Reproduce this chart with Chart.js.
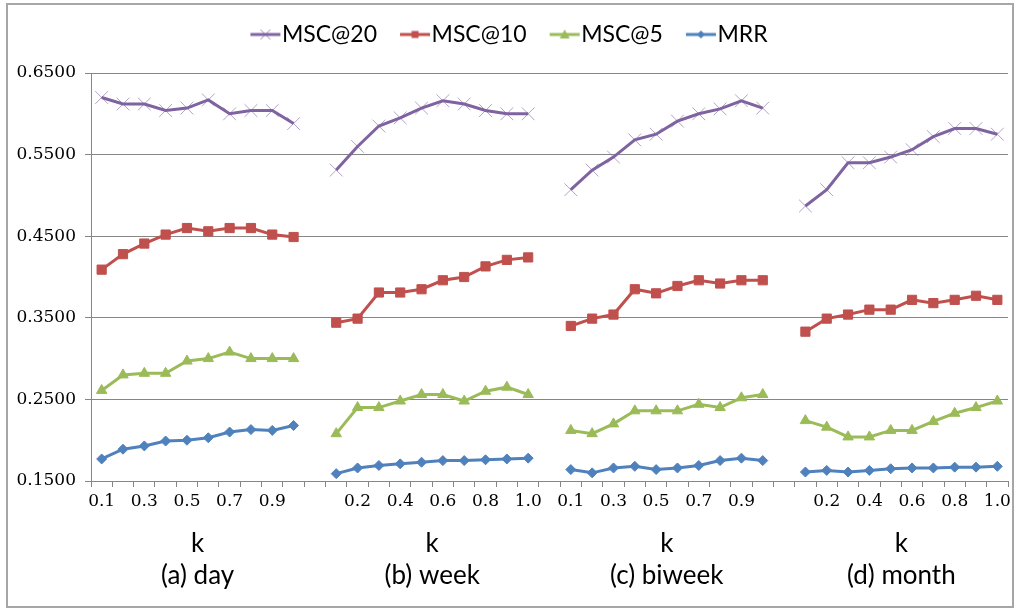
<!DOCTYPE html>
<html>
<head>
<meta charset="utf-8">
<script src="https://cdn.jsdelivr.net/npm/chart.js@4/dist/chart.umd.min.js"></script>
<style>
  body { margin: 0; background: #fff; }
  #wrap { position: relative; width: 1018px; height: 609px; }
  #frame { position: absolute; left: 6px; top: 3px; width: 1004px; height: 601px; border: 2px solid #a6a6a6; pointer-events: none; }
</style>
</head>
<body>
<div id="wrap">
  <canvas id="chart" width="1018" height="609"></canvas>
  <div id="frame"></div>
</div>
<script>
"use strict";

// k values on the x axis, one set per panel
const kLabels = ['0.1', '0.2', '0.3', '0.4', '0.5', '0.6', '0.7', '0.8', '0.9', '1.0'];
const panelNames = ['(a) day', '(b) week', '(c) biweek', '(d) month'];
const yTicks = [0.15, 0.25, 0.35, 0.45, 0.55, 0.65];

// values per series: day, week, biweek, month (10 each)
const msc20 = [
  0.620, 0.612, 0.612, 0.604, 0.607, 0.617, 0.600, 0.604, 0.604, 0.588,
  0.531, 0.560, 0.585, 0.595, 0.607, 0.616, 0.612, 0.604, 0.600, 0.600,
  0.507, 0.531, 0.547, 0.568, 0.575, 0.591, 0.600, 0.606, 0.616, 0.607,
  0.487, 0.507, 0.540, 0.540, 0.547, 0.556, 0.572, 0.582, 0.582, 0.575
];
const msc10 = [
  0.409, 0.428, 0.441, 0.452, 0.460, 0.456, 0.460, 0.460, 0.452, 0.449,
  0.344, 0.349, 0.381, 0.381, 0.385, 0.396, 0.400, 0.413, 0.421, 0.424,
  0.340, 0.349, 0.354, 0.385, 0.380, 0.389, 0.396, 0.392, 0.396, 0.396,
  0.333, 0.349, 0.354, 0.360, 0.360, 0.372, 0.368, 0.372, 0.377, 0.372
];
const msc5 = [
  0.261, 0.280, 0.282, 0.282, 0.297, 0.300, 0.308, 0.300, 0.300, 0.300,
  0.208, 0.240, 0.240, 0.248, 0.256, 0.256, 0.248, 0.260, 0.265, 0.256,
  0.212, 0.208, 0.220, 0.236, 0.236, 0.236, 0.244, 0.240, 0.252, 0.256,
  0.224, 0.216, 0.204, 0.204, 0.212, 0.212, 0.223, 0.233, 0.240, 0.248
];
const mrr = [
  0.177, 0.189, 0.193, 0.199, 0.200, 0.203, 0.210, 0.213, 0.212, 0.218,
  0.159, 0.166, 0.169, 0.171, 0.173, 0.175, 0.175, 0.176, 0.177, 0.178,
  0.164, 0.160, 0.166, 0.168, 0.164, 0.166, 0.169, 0.175, 0.178, 0.175,
  0.161, 0.163, 0.161, 0.163, 0.165, 0.166, 0.166, 0.167, 0.167, 0.168
];

// one empty category between the panels
function withGaps(values, gap) {
  const out = [];
  for (let p = 0; p < panelNames.length; p++) {
    if (p > 0) out.push(gap);
    out.push(...values.slice(p * 10, p * 10 + 10));
  }
  return out;
}

const labels = withGaps([].concat(kLabels, kLabels, kLabels, kLabels), '');

const series = [
  { label: 'MSC@20', data: msc20, color: '#7f63a1', style: 'crossRot' },
  { label: 'MSC@10', data: msc10, color: '#c0504d', style: 'rect' },
  { label: 'MSC@5', data: msc5, color: '#9bbb59', style: 'triangle' },
  { label: 'MRR', data: mrr, color: '#4f81bd', style: 'rectRot' }
];

// legend icon: short line with the marker on it
function makeIcon(s) {
  const c = document.createElement('canvas');
  c.width = 60; c.height = 18;
  const g = c.getContext('2d');
  const cx = 40, cy = 9;
  g.strokeStyle = s.color;
  g.lineWidth = 3;
  g.beginPath(); g.moveTo(25, cy); g.lineTo(55, cy); g.stroke();
  g.fillStyle = s.color;
  if (s.style === 'crossRot') {
    g.strokeStyle = 'rgba(128,100,162,0.75)';
    g.lineWidth = 1;
    g.beginPath();
    g.moveTo(cx - 5, cy - 5); g.lineTo(cx + 5, cy + 5);
    g.moveTo(cx - 5, cy + 5); g.lineTo(cx + 5, cy - 5);
    g.stroke();
  } else if (s.style === 'rect') {
    g.fillRect(cx - 3.5, cy - 3.5, 7, 7);
  } else if (s.style === 'triangle') {
    g.beginPath(); g.moveTo(cx, cy - 5); g.lineTo(cx + 5, cy + 4); g.lineTo(cx - 5, cy + 4); g.closePath(); g.fill();
  } else {
    g.beginPath(); g.moveTo(cx, cy - 4); g.lineTo(cx + 4, cy); g.lineTo(cx, cy + 4); g.lineTo(cx - 4, cy); g.closePath(); g.fill();
  }
  return c;
}
const icons = series.map(makeIcon);

// extra space under the legend
const legendGap = {
  id: 'legendGap',
  beforeLayout(chart) {
    const lg = chart.legend;
    if (lg && !lg._gapPatched) {
      const fit = lg.fit.bind(lg);
      lg.fit = function () { fit(); this.height += 17; };
      lg._gapPatched = true;
    }
  }
};

const panelCaptions = {
  id: 'panelCaptions',
  afterDraw(chart) {
    const x = chart.scales.x;
    const ctx = chart.ctx;
    ctx.save();
    ctx.fillStyle = '#000';
    ctx.font = '26px Lato';
    ctx.textAlign = 'center';
    ctx.textBaseline = 'middle';
    for (let p = 0; p < panelNames.length; p++) {
      const cx = (x.getPixelForValue(p * 11) + x.getPixelForValue(p * 11 + 9)) / 2;
      ctx.fillText('k', cx, 544);
      ctx.fillText(panelNames[p], cx, 576);
    }
    ctx.restore();
  }
};

const ctx = document.getElementById('chart');

new Chart(ctx, {
  type: 'line',
  data: {
    labels: labels,
    datasets: series.map(s => ({
      label: s.label,
      data: withGaps(s.data, null),
      borderColor: s.color,
      backgroundColor: s.color,
      borderWidth: 3,
      tension: 0,
      spanGaps: false,
      pointStyle: s.style,
      pointRadius: s.style === 'crossRot' ? 9 : s.style === 'rectRot' ? 5 : s.style === 'rect' ? 6.5 : 6,
      pointBorderWidth: 1,
      pointBorderColor: s.style === 'crossRot' ? 'rgba(128,100,162,0.6)' : s.color,
      pointBackgroundColor: s.color
    }))
  },
  options: {
    responsive: false,
    animation: false,
    layout: { padding: { top: 10, right: 10, left: 0, bottom: 0 } },
    plugins: {
      tooltip: { enabled: false },
      legend: {
        position: 'top',
        labels: {
          usePointStyle: true,
          pointStyleWidth: 30,
          padding: 13,
          color: '#000',
          font: { family: 'Lato', size: 23 },
          generateLabels(chart) {
            const items = Chart.defaults.plugins.legend.labels.generateLabels(chart);
            items.forEach((it, i) => { it.pointStyle = icons[i]; });
            return items;
          }
        }
      }
    },
    scales: {
      x: {
        type: 'category',
        offset: true,
        afterFit(scale) { scale.height = 128; },
        grid: { offset: true, drawOnChartArea: false, drawTicks: true, tickLength: 6, color: '#868686' },
        border: { display: true, color: '#868686' },
        ticks: {
          autoSkip: false,
          maxRotation: 0,
          padding: 4,
          color: '#000',
          font: { family: 'DejaVu Serif', size: 17 },
          callback: (v, i) => (i % 2 === 0 ? labels[i] : '')
        }
      },
      y: {
        min: yTicks[0],
        max: yTicks[yTicks.length - 1],
        afterFit(scale) { scale.width = 91; },
        grid: { color: '#868686', tickLength: 6 },
        border: { display: true, color: '#868686' },
        ticks: {
          stepSize: 0.1,
          padding: 9,
          color: '#000',
          font: { family: 'DejaVu Serif', size: 17 },
          callback: v => v.toFixed(4)
        }
      }
    }
  },
  plugins: [legendGap, panelCaptions]
});
</script>
</body>
</html>
